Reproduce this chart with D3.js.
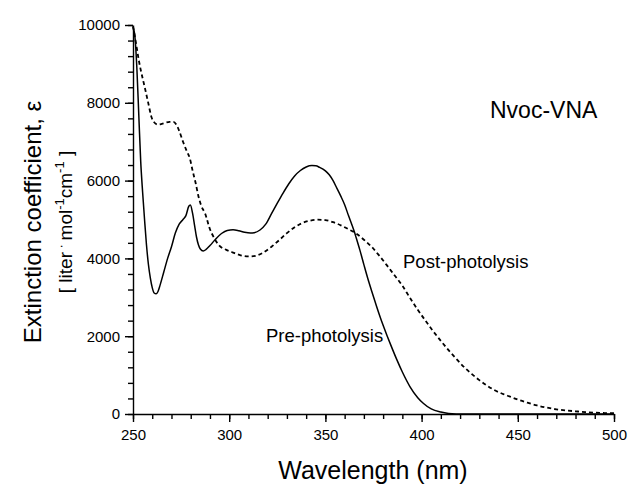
<!DOCTYPE html>
<html>
<head>
<meta charset="utf-8">
<script src="https://cdn.jsdelivr.net/npm/d3@7"></script>
<style>
  body { margin: 0; background: #fff; }
  svg text { font-family: "Liberation Sans", Arial, sans-serif; fill: #000; }
</style>
</head>
<body>
<div id="chart"></div>
<script>
// wavelengths (nm) and extinction coefficients
const preWl = [250, 251, 252, 253, 254, 255, 256, 257, 258, 259, 260, 261, 262, 263, 264, 266, 268, 270, 272, 274, 276, 277.5, 279, 279.8, 281, 282, 283, 284, 285, 286.5, 288, 290, 293, 296, 299, 302, 305, 308, 311, 313, 316, 319, 322, 325, 328, 331, 334, 337, 340, 343, 345, 347, 350, 352, 354, 356, 358, 360, 362, 364, 365, 366, 368, 370, 372, 374, 376, 378, 380, 382, 384, 387, 390, 394, 398, 401, 405, 410, 414, 418, 425, 450, 500]
const preEps = [9950, 9700, 8900, 7700, 6500, 5700, 5000, 4350, 3850, 3500, 3250, 3110, 3090, 3150, 3300, 3650, 4000, 4300, 4650, 4880, 5000, 5100, 5340, 5370, 5150, 4850, 4550, 4350, 4240, 4190, 4230, 4330, 4500, 4640, 4720, 4735, 4710, 4670, 4650, 4660, 4730, 4880, 5150, 5420, 5680, 5920, 6120, 6260, 6350, 6385, 6380, 6340, 6250, 6150, 6000, 5800, 5600, 5380, 5100, 4830, 4690, 4530, 4200, 3840, 3490, 3170, 2860, 2560, 2280, 2020, 1770, 1410, 1080, 700, 420, 270, 130, 50, 15, 3, 0, 0, 0]

const postWl = [250, 251, 252, 253, 254, 256, 258, 259.5, 261, 263, 265, 267, 269, 271, 272.5, 274, 276, 278, 279.5, 281, 282.5, 284, 285.5, 287.5, 290, 292, 295, 298.5, 302, 306, 310, 314, 318, 322, 326, 330, 334, 338, 342, 346, 350, 354, 358, 362, 366, 370, 374, 378, 382, 386, 390, 394, 398, 402, 406, 410, 414, 418, 422, 426, 430, 434, 438, 442, 446, 450, 455, 460, 465, 470, 475, 480, 485, 490, 495, 500]
const postEps = [9970, 9700, 9400, 9100, 8850, 8420, 7980, 7650, 7500, 7440, 7460, 7490, 7510, 7510, 7440, 7280, 7000, 6750, 6580, 6250, 5950, 5600, 5350, 5150, 4750, 4540, 4320, 4220, 4150, 4080, 4050, 4070, 4160, 4300, 4470, 4650, 4800, 4910, 4970, 4995, 4985, 4930, 4850, 4750, 4640, 4480, 4300, 4070, 3820, 3560, 3300, 2980, 2680, 2400, 2130, 1880, 1640, 1420, 1210, 1030, 870, 730, 610, 520, 445, 370, 290, 220, 165, 120, 90, 70, 50, 35, 25, 20]

const xMajor = [250, 300, 350, 400, 450, 500]
const yMajor = [0, 2000, 4000, 6000, 8000, 10000]

const W = 631, H = 489
const margin = {top: 25, right: 17, bottom: 75, left: 133}

const svg = d3.select("#chart").append("svg")
    .attr("width", W)
    .attr("height", H)

const x = d3.scaleLinear().domain([250, 500]).range([margin.left, W - margin.right])
const y = d3.scaleLinear().domain([0, 10000]).range([H - margin.bottom, margin.top])

// minor ticks first, then the major axis on top
const xMinor = d3.range(250, 501, 10)
const yMinor = d3.range(0, 10001, 400)

svg.append("g")
    .attr("transform", `translate(0,${y(0)})`)
    .call(d3.axisBottom(x).tickValues(xMinor).tickSize(5).tickFormat(""))
    .call(g => g.select(".domain").remove())
svg.append("g")
    .attr("transform", `translate(${x(250)},0)`)
    .call(d3.axisLeft(y).tickValues(yMinor).tickSize(5).tickFormat(""))
    .call(g => g.select(".domain").remove())

const xAxis = svg.append("g")
    .attr("transform", `translate(0,${y(0)})`)
    .call(d3.axisBottom(x).tickValues(xMajor).tickSize(8).tickSizeOuter(0).tickPadding(7).tickFormat(d3.format("d")))
const yAxis = svg.append("g")
    .attr("transform", `translate(${x(250)},0)`)
    .call(d3.axisLeft(y).tickValues(yMajor).tickSize(8).tickSizeOuter(0).tickPadding(5).tickFormat(d3.format("d")))

svg.selectAll(".tick line, .domain").attr("stroke", "#000").attr("stroke-width", 1.4)
svg.selectAll(".tick text").attr("font-size", 15).attr("font-family", "Liberation Sans, Arial, sans-serif")

// curves
const line = d3.line()
    .x(d => x(d[0]))
    .y(d => y(d[1]))
    .curve(d3.curveMonotoneX)

svg.append("path")
    .datum(postWl.map((w, i) => [w, postEps[i]]))
    .attr("d", line)
    .attr("fill", "none")
    .attr("stroke", "#000")
    .attr("stroke-width", 1.8)
    .attr("stroke-dasharray", "4,3")

svg.append("path")
    .datum(preWl.map((w, i) => [w, preEps[i]]))
    .attr("d", line)
    .attr("fill", "none")
    .attr("stroke", "#000")
    .attr("stroke-width", 1.5)

// labels
svg.append("text")
    .attr("x", 490).attr("y", 118)
    .attr("font-size", 23)
    .text("Nvoc-VNA")

svg.append("text")
    .attr("x", 403).attr("y", 268)
    .attr("font-size", 18.5)
    .text("Post-photolysis")

svg.append("text")
    .attr("x", 266).attr("y", 342)
    .attr("font-size", 18.5)
    .text("Pre-photolysis")

svg.append("text")
    .attr("x", 373)
    .attr("y", 479)
    .attr("text-anchor", "middle")
    .attr("font-size", 25)
    .text("Wavelength (nm)")

svg.append("text")
    .attr("transform", "translate(41,222) rotate(-90)")
    .attr("text-anchor", "middle")
    .attr("font-size", 24)
    .text("Extinction coefficient, ε")

const unit = svg.append("text")
    .attr("transform", "translate(72,222) rotate(-90)")
    .attr("text-anchor", "middle")
    .attr("font-size", 19)
unit.append("tspan").text("[ liter")
unit.append("tspan").attr("dy", -7).attr("font-size", 13).text(" · ")
unit.append("tspan").attr("dy", 7).text("mol")
unit.append("tspan").attr("dy", -8).attr("font-size", 13).text("-1")
unit.append("tspan").attr("dy", 8).text("cm")
unit.append("tspan").attr("dy", -8).attr("font-size", 13).text("-1")
unit.append("tspan").attr("dy", 8).text(" ]")
</script>
</body>
</html>
